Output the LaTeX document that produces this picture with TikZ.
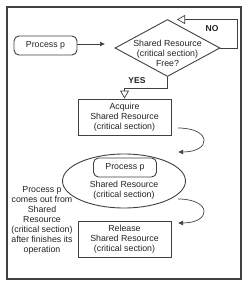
\documentclass[tikz,border=0pt]{standalone}
\usepackage{fontspec}
\setmainfont{Liberation Sans}
\usetikzlibrary{shapes.geometric,arrows.meta}
\definecolor{ln}{HTML}{404040}
\definecolor{tx}{HTML}{222222}
\begin{document}
\begin{tikzpicture}[x=1pt,y=-1pt,
  font=\fontsize{8.8}{10}\selectfont,
  txt/.style={align=center,text=tx,inner sep=0},
  rbox/.style={draw=ln,line width=0.9pt,rounded corners=5pt,minimum width=63pt,minimum height=19pt,inner sep=0,text=tx},
  sbox/.style={draw=ln,line width=0.9pt,minimum width=93pt,minimum height=36pt,inner sep=0,align=center,text=tx},
  conn/.style={draw=ln,line width=0.7pt},
  filltip/.style={conn,-{Latex[length=5pt,width=5pt]}},
  opentip/.style={conn,-{Triangle[open,length=8pt,width=9pt]}}]
\useasboundingbox (0,0) rectangle (250,287);
\draw[draw=ln,line width=1.4pt] (7,7) rectangle (241,279);
% start
\node[rbox] (p1) at (45.5,45.5) {Process p};
% decision
\node[diamond,draw=ln,line width=0.9pt,minimum width=105pt,minimum height=57pt,inner sep=0] (d) at (167.5,48) {};
\node[txt] (dt) at (167.5,53) {Shared Resource\\(critical section)\\Free?};
\coordinate (pin) at (105,44);
\draw[filltip] (p1.east |- pin) -- (pin);
% NO loop
\coordinate (noend) at (177,19.5);
\draw[opentip] (d.east) -- (237,48) -- (237,19.5) -- (noend);
\node[txt,font=\bfseries\fontsize{8.5}{10}\selectfont] (no) at (212,29) {NO};
% acquire
\node[sbox] (acq) at (124.5,117) {Acquire\\Shared Resource\\(critical section)};
\draw[opentip] (d.south) -- (167.5,88) -- (124.5,88) -- (acq.north);
\node[txt,font=\bfseries\fontsize{8.5}{10}\selectfont] (yes) at (137,81) {YES};
% ellipse
\node[ellipse,draw=ln,line width=0.9pt,minimum width=123pt,minimum height=54pt,inner sep=0] (el) at (124,181) {};
\node[rbox] (p2) at (125,167.5) {Process p};
\node[txt] (elt) at (124,190) {Shared Resource\\(critical section)};
\coordinate (c1s) at (178,128);
\coordinate (c1e) at (178,152);
\draw[filltip] (c1s) .. controls (212,128) and (212,152) .. (c1e);
% release
\node[sbox] (rel) at (124.5,239) {Release\\Shared Resource\\(critical section)};
\coordinate (c2s) at (178,199);
\coordinate (c2e) at (178,223);
\draw[filltip] (c2s) .. controls (212,199) and (212,223) .. (c2e);
% side note
\node[txt] (note) at (42,220.5) {Process p\\comes out from\\Shared\\Resource\\(critical section)\\after finishes its\\operation};
\end{tikzpicture}
\end{document}
